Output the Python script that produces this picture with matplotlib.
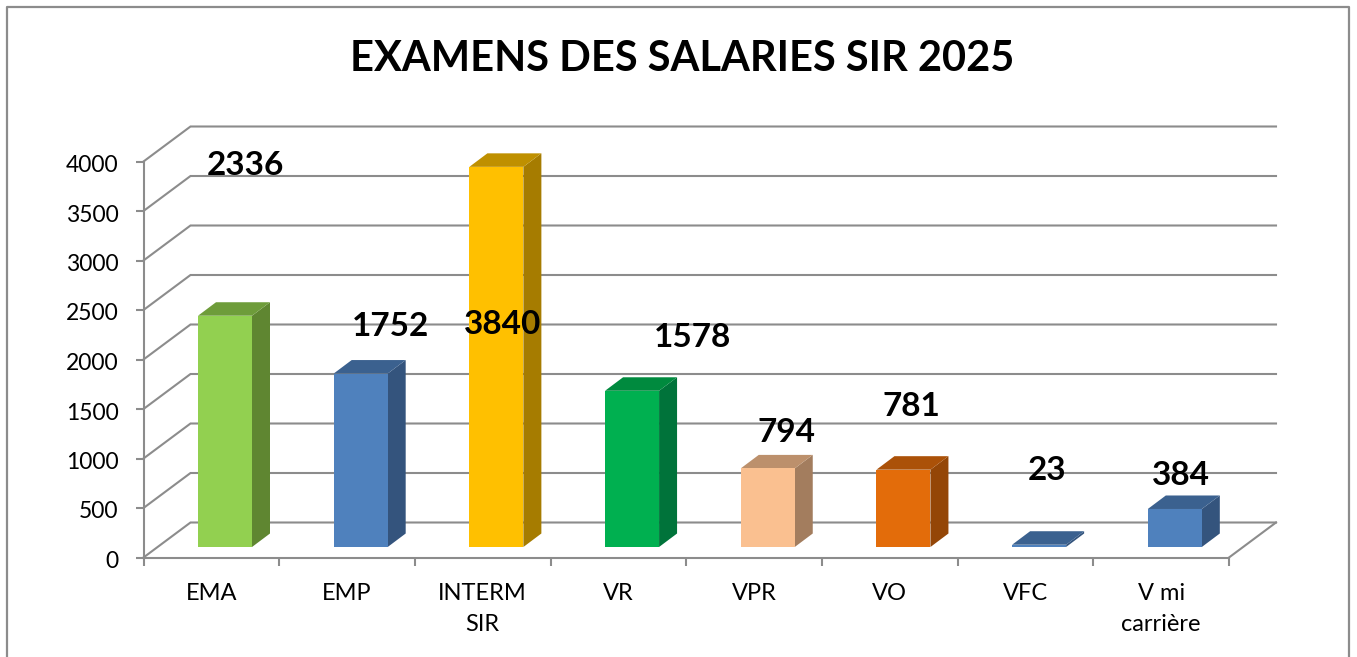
import matplotlib
matplotlib.use('Agg')
import matplotlib.pyplot as plt
from matplotlib.lines import Line2D
from matplotlib.patches import Polygon
from matplotlib.transforms import ScaledTranslation

plt.rcParams['font.family'] = ['Lato', 'DejaVu Sans']

categories = ['EMA', 'EMP', 'INTERM\nSIR', 'VR', 'VPR', 'VO', 'VFC', 'V mi\ncarrière']
values = [2336, 1752, 3840, 1578, 794, 781, 23, 384]
yticks = [0, 500, 1000, 1500, 2000, 2500, 3000, 3500, 4000]

front_colors = ['#92D050', '#4F81BD', '#FFC000', '#00B050', '#FAC090', '#E36C0A', '#4F81BD', '#4F81BD']
side_colors = ['#5F8631', '#34547D', '#A67C00', '#00733A', '#A37D5E', '#944607', '#34547D', '#34547D']
top_colors = ['#6E9C3A', '#3B618F', '#BF9000', '#008A3E', '#BC906C', '#AB5108', '#3B618F', '#3B618F']

# hand moved data labels, in pixels from the top of the bar
label_offsets = [(34, 161), (43, 58), (20, -147), (74, 64), (32, 46), (22, 74), (22, 85), (20, 44)]

W, H = 1357, 657
GREY = '#8C8C8C'

# plot box in pixels
left, right, bottom, top = 143.5, 1229, 557.5, 161.5
px_x = (right - left) / 8
px_y = (bottom - top) / 4000

fig = plt.figure(figsize=(W / 100, H / 100), dpi=100)
ax = fig.add_axes([left / W, 1 - bottom / H, (right - left) / W, (bottom - top) / H])
ax.set_xlim(0, 8)
ax.set_ylim(0, 4000)
ax.patch.set_visible(False)

# fake 3d depth of the walls and the bars
wall_dx, wall_dy = 47 / px_x, 35 / px_y
bar_dx, bar_dy = 18 / px_x, 13.5 / px_y
bar_x0, bar_w, bar_y0 = 54.5 / px_x, 54 / px_x, 10.5 / px_y

for v in yticks:
    ax.plot([0, wall_dx, 8 + wall_dx], [v, v + wall_dy, v + wall_dy], color=GREY, lw=1.5,
            clip_on=False, zorder=1, solid_joinstyle='miter')
ax.plot([8, 8 + wall_dx], [0, wall_dy], color=GREY, lw=1.5, clip_on=False, zorder=1)

for i, val in enumerate(values):
    x0 = i + bar_x0
    x1 = x0 + bar_w
    y0 = bar_y0
    y1 = y0 + val
    ax.add_patch(Polygon([(x1, y0), (x1 + bar_dx, y0 + bar_dy), (x1 + bar_dx, y1 + bar_dy), (x1, y1)],
                         fc=side_colors[i], ec='none', clip_on=False, zorder=3))
    ax.add_patch(Polygon([(x0, y1), (x1, y1), (x1 + bar_dx, y1 + bar_dy), (x0 + bar_dx, y1 + bar_dy)],
                         fc=top_colors[i], ec='none', clip_on=False, zorder=3))
    ax.add_patch(Polygon([(x0, y0), (x1, y0), (x1, y1), (x0, y1)],
                         fc=front_colors[i], ec='none', clip_on=False, zorder=4))
    ax.annotate(str(val), (i + 0.5, val), xytext=label_offsets[i], textcoords='offset pixels',
                ha='center', va='center', fontsize=24, fontweight='bold', color='black',
                annotation_clip=False, zorder=6)

for side in ['top', 'right']:
    ax.spines[side].set_visible(False)
for side in ['left', 'bottom']:
    ax.spines[side].set_color(GREY)
    ax.spines[side].set_linewidth(1.5)
    ax.spines[side].set_zorder(2)

ax.set_yticks(yticks)
ax.set_xticks(range(9))
ax.set_xticklabels([])
ax.set_xticks([i + 0.5 for i in range(8)], categories, minor=True)
ax.tick_params(axis='both', which='major', color=GREY, width=1.5, length=6)
ax.tick_params(axis='y', labelsize=16.5, pad=12, labelcolor='black')
ax.tick_params(axis='x', which='minor', length=0, labelsize=17, pad=18, labelcolor='black')
for lab in ax.get_xticklabels(minor=True):
    lab.set_linespacing(1.6)
# labels sit a little under their ticks in the original
shift = ScaledTranslation(0, -0.02, fig.dpi_scale_trans)
for lab in ax.get_yticklabels():
    lab.set_transform(lab.get_transform() + shift)

fig.text(682 / W, 1 - 59 / H, 'EXAMENS DES SALARIES SIR 2025', ha='center', va='center',
         fontsize=30, fontweight='bold', color='black')

# chart frame, the bottom edge is cut off
bx0, bx1, by0 = 7 / W, 1349 / W, 1 - 6.5 / H
fig.add_artist(Line2D([bx0, bx0, bx1, bx1], [0, by0, by0, 0], color=GREY, lw=1.6))

fig.savefig('out.png', dpi=100)
